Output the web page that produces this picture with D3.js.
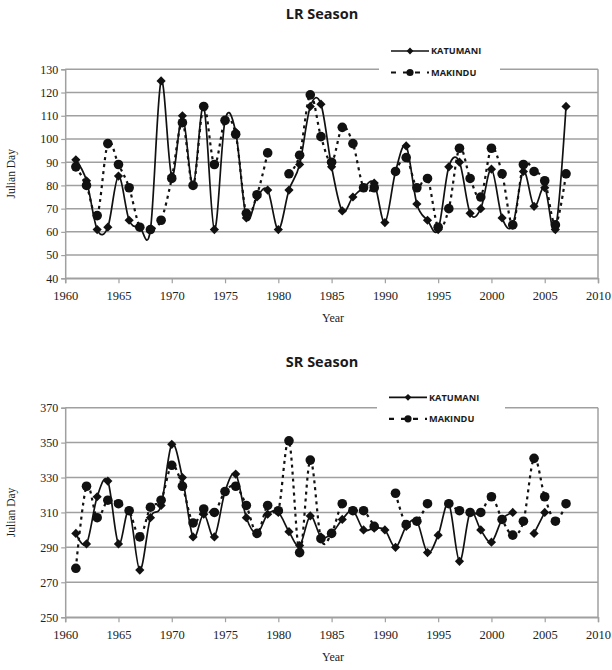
<!DOCTYPE html>
<html>
<head>
<meta charset="utf-8">
<script src="https://cdn.jsdelivr.net/npm/d3@7"></script>
<style>
  body { margin: 0; background: #fff; }
  svg { display: block; }
</style>
</head>
<body>
<svg id="chart" width="612" height="670"></svg>
<script>
const years = d3.range(1961, 2008);
const xTicks = [1960, 1965, 1970, 1975, 1980, 1985, 1990, 1995, 2000, 2005, 2010];
const seriesNames = ["KATUMANI", "MAKINDU"];

const lrKatumani = [91, 82, 61, 62, 84, 65, 62, 61, 125, 84, 110, 80, 114, 61, 108, 103, 66, 75, 78, 61,
  78, 89, 114, 115, 88, 69, 75, 79, 81, 64, 86, 97, 72, 65, 61, 88, 90, 68, 70, 87,
  66, 63, 86, 71, 79, 61, 114];
const lrMakindu = [88, 80, 67, 98, 89, 79, 62, 61, 65, 83, 107, 80, 114, 89, 108, 102, 68, 76, 94, null,
  85, 93, 119, 101, 90, 105, 98, 79, 79, null, 86, 92, 79, 83, 62, 70, 96, 83, 75, 96,
  85, 63, 89, 86, 82, 63, 85];
const lrTicks = [40, 50, 60, 70, 80, 90, 100, 110, 120, 130];

const srKatumani = [298, 292, 319, 328, 292, 311, 277, 307, 314, 349, 330, 296, 309, 296, 322, 332, 307, 298, 309, 310,
  299, 291, 308, 296, 298, 306, 311, 300, 301, 300, 290, 302, 305, 287, 297, 315, 282, 310, 300, 293,
  306, 310, null, 298, 310, null, null];
const srMakindu = [278, 325, 307, 317, 315, 311, 296, 313, 317, 337, 325, 304, 312, 310, 322, 325, 314, 298, 314, 311,
  351, 287, 340, 295, 298, 315, 311, 311, 302, null, 321, 303, 305, 315, null, 315, 311, 310, 310, 319,
  306, 297, 305, 341, 319, 305, 315];
const srTicks = [250, 270, 290, 310, 330, 350, 370];

const svg = d3.select("#chart");
const gridColor = "#a0a0a0";
const x = d3.scaleLinear().domain([1960, 2010]).range([65.2, 598]);

function drawPanel(cfg) {
  const y = d3.scaleLinear().domain(cfg.domain).range([cfg.bottom, cfg.top]);
  const g = svg.append("g");

  g.append("text").attr("x", 322).attr("y", cfg.titleY)
    .attr("text-anchor", "middle")
    .attr("font-family", "'Open Sans', sans-serif").attr("font-weight", "bold")
    .attr("font-size", 14.5).attr("fill", "#1a1a1a").text(cfg.title);

  g.append("g").selectAll("line").data(cfg.ticks).join("line")
    .attr("x1", x(1960)).attr("x2", x(2010))
    .attr("y1", d => y(d)).attr("y2", d => y(d))
    .attr("stroke", gridColor).attr("stroke-width", 1.5);

  g.append("line").attr("x1", x(2010)).attr("x2", x(2010))
    .attr("y1", cfg.top).attr("y2", cfg.bottom)
    .attr("stroke", gridColor).attr("stroke-width", 1.5);

  const ya = g.append("g").attr("transform", `translate(${x(1960)},0)`)
    .call(d3.axisLeft(y).tickValues(cfg.ticks).tickSize(4).tickPadding(3).tickFormat(d3.format("d")));
  ya.select(".domain").attr("stroke", gridColor).attr("stroke-width", 1.5);
  ya.selectAll(".tick line").attr("stroke", gridColor).attr("stroke-width", 1.2);
  ya.selectAll("text").attr("font-family", "'Liberation Serif', serif").attr("font-size", 12).attr("fill", "#222");

  const xa = g.append("g").attr("transform", `translate(0,${cfg.bottom})`)
    .call(d3.axisBottom(x).tickValues(xTicks).tickSize(5).tickPadding(8).tickFormat(d3.format("d")));
  xa.select(".domain").attr("stroke", gridColor).attr("stroke-width", 1.5);
  xa.selectAll(".tick line").attr("stroke", gridColor).attr("stroke-width", 1.2);
  xa.selectAll("text").attr("font-family", "'Liberation Serif', serif").attr("font-size", 12.5).attr("fill", "#222");

  g.append("text").attr("x", 333).attr("y", cfg.bottom + 44)
    .attr("text-anchor", "middle").attr("font-family", "'Liberation Serif', serif")
    .attr("font-size", 12).attr("fill", "#222").text("Year");
  g.append("text")
    .attr("transform", `translate(15,${(cfg.top + cfg.bottom) / 2}) rotate(-90)`)
    .attr("text-anchor", "middle").attr("font-family", "'Liberation Serif', serif")
    .attr("font-size", 11.5).attr("fill", "#222").text("Julian Day");

  const line = d3.line()
    .defined(d => d[1] !== null)
    .x(d => x(d[0])).y(d => y(d[1]))
    .curve(d3.curveCatmullRom.alpha(0));

  const kData = years.map((yr, i) => [yr, cfg.k[i]]);
  const mData = years.map((yr, i) => [yr, cfg.m[i]]);
  const diamond = s => `M0,${-s}L${s},0L0,${s}L${-s},0Z`;

  g.append("path").datum(kData).attr("d", line)
    .attr("fill", "none").attr("stroke", "#111").attr("stroke-width", 1.7);
  g.append("g").selectAll("path").data(kData.filter(d => d[1] !== null)).join("path")
    .attr("transform", d => `translate(${x(d[0])},${y(d[1])})`)
    .attr("d", diamond(4.6)).attr("fill", "#111");

  g.append("path").datum(mData).attr("d", line)
    .attr("fill", "none").attr("stroke", "#111").attr("stroke-width", 2.2)
    .attr("stroke-dasharray", "3,4");
  g.append("g").selectAll("circle").data(mData.filter(d => d[1] !== null)).join("circle")
    .attr("cx", d => x(d[0])).attr("cy", d => y(d[1])).attr("r", 4.8).attr("fill", "#111");

  const lg = g.append("g");
  lg.append("rect").attr("x", cfg.legX).attr("y", cfg.legY - 12)
    .attr("width", cfg.legW).attr("height", 46).attr("fill", "#fff");
  const lx0 = cfg.legX + 12, lx1 = lx0 + 38, lxm = (lx0 + lx1) / 2;
  [0, 1].forEach(i => {
    const yy = cfg.legY + i * 21.5;
    lg.append("line").attr("x1", lx0).attr("x2", lx1).attr("y1", yy).attr("y2", yy)
      .attr("stroke", "#111").attr("stroke-width", i ? 2.2 : 1.7)
      .attr("stroke-dasharray", i ? "5,7" : null);
    if (i === 0) {
      lg.append("path").attr("transform", `translate(${lxm},${yy})`).attr("d", diamond(3.4)).attr("fill", "#111");
    } else {
      lg.append("circle").attr("cx", lxm).attr("cy", yy).attr("r", 3.6).attr("fill", "#111");
    }
    lg.append("text").attr("x", lx1 + 2).attr("y", yy + 3.3)
      .attr("font-family", "'Open Sans', sans-serif").attr("font-weight", "bold")
      .attr("font-size", 9.2).attr("fill", "#1a1a1a").text(seriesNames[i]);
  });
}

drawPanel({ title: "LR Season", titleY: 19, domain: [40, 130], top: 69.3, bottom: 278.3,
  ticks: lrTicks, k: lrKatumani, m: lrMakindu, legX: 379, legY: 51, legW: 121 });
drawPanel({ title: "SR Season", titleY: 367, domain: [250, 370], top: 407.7, bottom: 617.2,
  ticks: srTicks, k: srKatumani, m: srMakindu, legX: 377, legY: 397.3, legW: 128 });
</script>
</body>
</html>
